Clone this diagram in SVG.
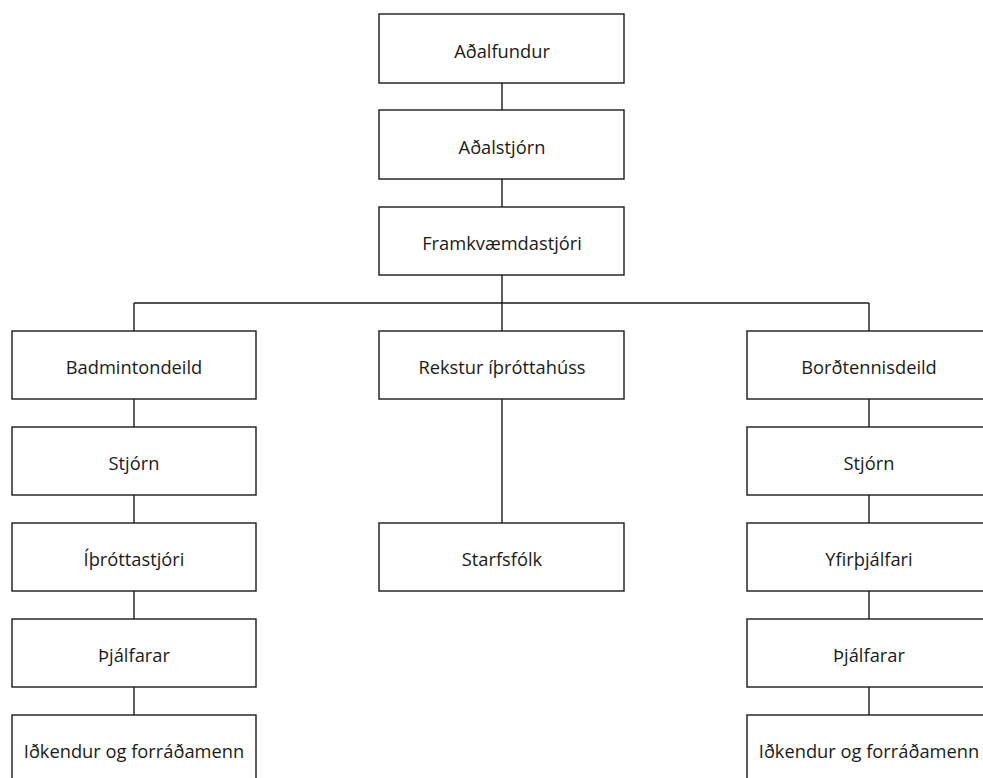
<svg xmlns="http://www.w3.org/2000/svg" width="983" height="778" viewBox="0 0 983 778">
<style>
.b{fill:#fff;stroke:#1a1a1a;stroke-width:1.4}
.c{fill:none;stroke:#1a1a1a;stroke-width:1.4}
text{font-family:"Open Sans","Noto Sans",sans-serif;font-size:18.3px;fill:#1a1a1a;text-anchor:middle;dominant-baseline:central}
</style>
<rect width="983" height="778" fill="#fff"/>
<g id="connectors">
<path class="c" d="M502 83V110M502 179V207M502 275V303M134 303H869M134 303V331M502 303V331M869 303V331"/>
<path class="c" d="M134 399V427M134 495V523M134 591V619M134 687V715"/>
<path class="c" d="M502 399V523"/>
<path class="c" d="M869 399V427M869 495V523M869 591V619M869 687V715"/>
</g>
<g id="n1"><rect class="b" x="379" y="14" width="245" height="69"/><text x="502" y="50">Aðalfundur</text></g>
<g id="n2"><rect class="b" x="379" y="110" width="245" height="69"/><text x="502" y="146">Aðalstjórn</text></g>
<g id="n3"><rect class="b" x="379" y="207" width="245" height="68"/><text x="502" y="242">Framkvæmdastjóri</text></g>
<g id="n4"><rect class="b" x="12" y="331" width="244" height="68"/><text x="134" y="366">Badmintondeild</text></g>
<g id="n5"><rect class="b" x="379" y="331" width="245" height="68"/><text x="502" y="366">Rekstur íþróttahúss</text></g>
<g id="n6"><rect class="b" x="747" y="331" width="244" height="68"/><text x="869" y="366">Borðtennisdeild</text></g>
<g id="n7"><rect class="b" x="12" y="427" width="244" height="68"/><text x="134" y="462">Stjórn</text></g>
<g id="n8"><rect class="b" x="747" y="427" width="244" height="68"/><text x="869" y="462">Stjórn</text></g>
<g id="n9"><rect class="b" x="12" y="523" width="244" height="68"/><text x="134" y="558">Íþróttastjóri</text></g>
<g id="n10"><rect class="b" x="379" y="523" width="245" height="68"/><text x="502" y="558">Starfsfólk</text></g>
<g id="n11"><rect class="b" x="747" y="523" width="244" height="68"/><text x="869" y="558">Yfirþjálfari</text></g>
<g id="n12"><rect class="b" x="12" y="619" width="244" height="68"/><text x="134" y="654">Þjálfarar</text></g>
<g id="n13"><rect class="b" x="747" y="619" width="244" height="68"/><text x="869" y="654">Þjálfarar</text></g>
<g id="n14"><rect class="b" x="12" y="715" width="244" height="68"/><text x="134" y="750">Iðkendur og forráðamenn</text></g>
<g id="n15"><rect class="b" x="747" y="715" width="244" height="68"/><text x="869" y="750">Iðkendur og forráðamenn</text></g>
</svg>
